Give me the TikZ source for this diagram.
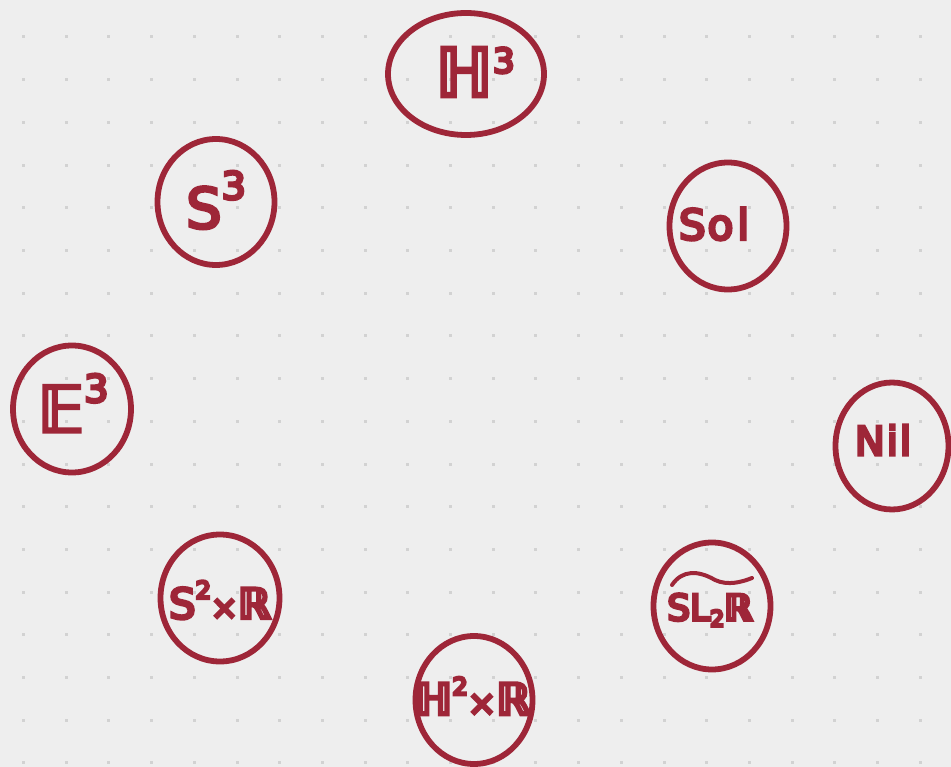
\documentclass[tikz,border=0pt]{standalone}
\usepackage{fontspec}
\usetikzlibrary{shapes.geometric}
\newfontfamily\hw{DejaVu Sans}
\definecolor{crim}{HTML}{9E2638}
\definecolor{bg}{HTML}{EEEEEE}
\definecolor{dotc}{HTML}{D2D2D2}
\newcommand{\fs}[1]{\fontsize{#1}{#1}\selectfont}
\newcommand{\thk}[2]{\special{pdf:literal direct 2 Tr #1 w}#2\special{pdf:literal direct 0 Tr 1 w}}
\tikzset{
  geo/.style={ellipse, draw=crim, line width=5.8pt, inner sep=0pt},
  lbl/.style={inner sep=0pt, text=crim, font=\hw},
}
\begin{document}
\begin{tikzpicture}[x=1pt,y=-1pt]
\fill[bg] (0,0) rectangle (951,767);
\useasboundingbox (0,0) rectangle (951,767);
\foreach \i in {0,...,21}{
  \foreach \j in {0,...,17}{
    \fill[dotc] ({23.5+42.7*\i-1.5},{37+42.7*\j-1.5}) rectangle ++(3,3);
  }
}
\node[geo, minimum width=156pt, minimum height=122pt] (h3) at (466,74) {};
\node[geo, minimum width=117pt, minimum height=126pt] (s3) at (216,202) {};
\node[geo, minimum width=117pt, minimum height=127pt] (sol) at (728,226) {};
\node[geo, minimum width=118pt, minimum height=127pt] (e3) at (72,409) {};
\node[geo, minimum width=113pt, minimum height=127pt] (nil) at (892,446) {};
\node[geo, minimum width=119pt, minimum height=127pt] (s2r) at (220,598) {};
\node[geo, minimum width=117pt, minimum height=127pt] (sl2r) at (712,606) {};
\node[geo, minimum width=117pt, minimum height=128pt] (h2r) at (474,700) {};

\node[lbl] (th3) at (475,72) {\thk{3}{\fs{68}ℍ{\fs{34}\raisebox{24pt}{3}}}};
\node[lbl] (ts3) at (216,200) {\thk{3}{\fs{56}S{\fs{38}\raisebox{29pt}{3}}}};
\node[lbl] (tsol) at (714,224) {\thk{3}{\fs{42}S\hspace{2pt}o\hspace{4pt}l}};
\node[lbl] (te3) at (73,403) {\thk{3}{\fs{64}𝔼{\fs{38}\raisebox{30pt}{3}}}};
\node[lbl] (tnil) at (883,440) {\thk{3}{\fs{40}N\hspace{2pt}i\hspace{2pt}l}};
\node[lbl] (ts2r) at (220,600) {\thk{3}{\fs{42}S{\fs{24}\raisebox{20pt}{2}}{\fs{32}×}ℝ}};
\node[lbl] (th2r) at (473,696) {\thk{3}{\fs{44}ℍ{\fs{24}\raisebox{20pt}{2}}{\fs{34}×}ℝ}};
\node[lbl] (tsl2r) at (710,610) {\thk{3}{\fs{36}SL{\fs{22}\raisebox{-6pt}{2}}ℝ}};
\draw[crim, line width=4pt, line cap=round] (672,585) .. controls (682,570) and (698,570) .. (715,580) .. controls (728,586) and (742,582) .. (752,578);
\end{tikzpicture}
\end{document}
